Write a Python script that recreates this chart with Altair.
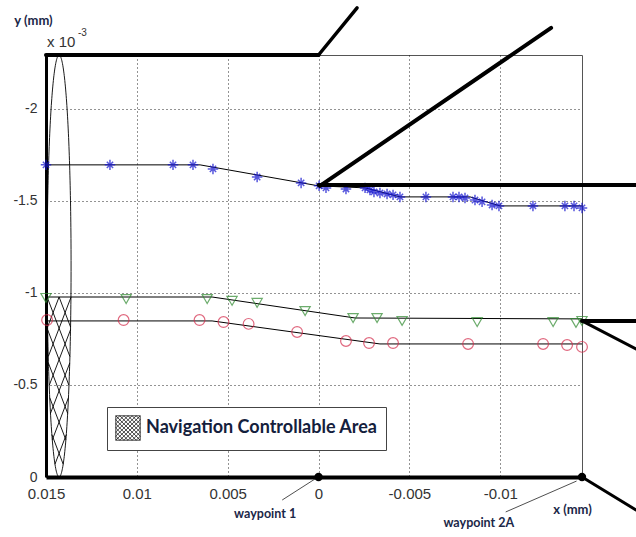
import numpy as np
import pandas as pd
import altair as alt

# ---- trajectory samples: x in mm, y in units of 1e-3 mm ----
star_x = [0.01500, 0.01148, 0.00801, 0.00691, 0.00581, 0.00338, 0.00096, -0.00003,
          -0.00041, -0.00151, -0.00256, -0.00283, -0.00305, -0.00338, -0.00377,
          -0.00410, -0.00448, -0.00591, -0.00740, -0.00773, -0.00806, -0.00861,
          -0.00900, -0.00955, -0.00993, -0.01180, -0.01356, -0.01406, -0.01450]
star_y = [-1.696, -1.696, -1.696, -1.696, -1.674, -1.630, -1.598, -1.582,
          -1.571, -1.565, -1.571, -1.560, -1.549, -1.543, -1.538,
          -1.533, -1.522, -1.522, -1.522, -1.522, -1.516, -1.505,
          -1.495, -1.478, -1.473, -1.473, -1.473, -1.473, -1.462]

tri_x = [0.01500, 0.01059, 0.00613, 0.00476, 0.00338, 0.00074, -0.00190,
         -0.00322, -0.00460, -0.00873, -0.01291, -0.01417, -0.01450]
tri_y = [-0.973, -0.967, -0.967, -0.957, -0.946, -0.902, -0.864,
         -0.864, -0.848, -0.842, -0.842, -0.837, -0.848]

circ_x = [0.01494, 0.01073, 0.00655, 0.00523, 0.00385, 0.00118, -0.00151,
          -0.00278, -0.00410, -0.00823, -0.01236, -0.01368, -0.01450]
circ_y = [-0.853, -0.853, -0.853, -0.842, -0.832, -0.788, -0.739,
          -0.728, -0.728, -0.723, -0.723, -0.717, -0.707]

# ---- reference paths (thin black lines) ----
star_path_x = [0.015, 0.00652, 0.0, -0.00256, -0.00449, -0.00834, -0.00999, -0.0145]
star_path_y = [-1.696, -1.696, -1.582, -1.571, -1.522, -1.522, -1.473, -1.473]
tri_path_x = [0.015, 0.00586, -0.00201, -0.0145]
tri_path_y = [-0.978, -0.978, -0.864, -0.859]
circ_path_x = [0.015, 0.00586, -0.00338, -0.0145]
circ_path_y = [-0.848, -0.848, -0.723, -0.723]

# ---- axes ----
x_domain = [0.015, -0.0145]
y_domain = [0, -2.293]
x_ticks = [0.015, 0.01, 0.005, 0, -0.005, -0.01]
y_ticks = [0, -0.5, -1, -1.5, -2]

# ---- waypoints ----
wp_names = ["waypoint 1", "waypoint 2A"]
wp_x = [0.0, -0.0145]
wp_y = [0.0, 0.0]
wp_label_x = [0.00294, -0.00882]
wp_label_y = [0.201, 0.250]
wp_lead_x0 = [0.00200, -0.01030]
wp_lead_y0 = [0.125, 0.190]
wp_lead_x1 = [0.00012, -0.01420]
wp_lead_y1 = [0.006, 0.022]

# ---- heavy guide strokes (mm, 1e-3 mm) ----
guide_x0 = [0.015, 0.0, -0.00008, 0.0, -0.0145, -0.0145, -0.0145]
guide_y0 = [-2.293, -2.293, -1.582, -1.587, -0.848, -0.848, 0.0]
guide_x1 = [0.0, -0.00212, -0.0128, -0.01747, -0.01747, -0.01747, -0.01747]
guide_y1 = [-2.293, -2.549, -2.440, -1.587, -0.848, -0.696, 0.179]
guide_w = [4, 3.5, 4, 4, 4, 3, 3]

# ---- navigation controllable area (ellipse with cross hatching) ----
ell_cx, ell_a = 0.01428, 0.00066
ell_cy, ell_b = -1.1465, 1.1465
hatch_top = -0.978
hatch_step = 0.17
area_name = "Navigation Controllable Area"

navy = "#1b2748"
label_font = "Lato"
tick_font = "Liberation Sans"

rows = []
t = np.linspace(0, 2 * np.pi, 241)
for i, tt in enumerate(t):
    rows.append(dict(x=ell_cx + ell_a * np.cos(tt), y=ell_cy + ell_b * np.sin(tt),
                     seg="ellipse", ord=i, region=area_name))

slope = hatch_step / ell_a  # rise of one step across half the width
seg_id = 0
for s in (slope, -slope):
    for c in np.arange(hatch_top - hatch_step, hatch_step * 1.01, hatch_step):
        # intersect y = c + s*u with the ellipse, u = x - cx
        A = 1 / ell_a ** 2 + s ** 2 / ell_b ** 2
        B = 2 * s * (c - ell_cy) / ell_b ** 2
        C = (c - ell_cy) ** 2 / ell_b ** 2 - 1
        disc = B * B - 4 * A * C
        if disc <= 0:
            continue
        u1 = (-B - np.sqrt(disc)) / (2 * A)
        u2 = (-B + np.sqrt(disc)) / (2 * A)
        ucut = (hatch_top - c) / s
        if s > 0:
            u1 = max(u1, ucut)
        else:
            u2 = min(u2, ucut)
        if u2 <= u1:
            continue
        for k, u in enumerate((u1, u2)):
            rows.append(dict(x=ell_cx + u, y=c + s * u, seg=f"h{seg_id}", ord=k,
                             region=area_name))
        seg_id += 1
area_df = pd.DataFrame(rows)


def hatch_symbol(n=6):
    parts = ["M-1,-1H1V1H-1Z"]
    for c in np.linspace(-2, 2, 2 * n + 1)[1:-1]:
        a0, a1 = max(-1, -1 - c), min(1, 1 - c)
        parts.append(f"M{a0:.3f},{a0 + c:.3f}L{a1:.3f},{a1 + c:.3f}")
        b0, b1 = max(-1, c - 1), min(1, c + 1)
        parts.append(f"M{b0:.3f},{c - b0:.3f}L{b1:.3f},{c - b1:.3f}")
    return "".join(parts)


star_shape = "M0,-1V1M-1,0H1M-0.6,-0.6L0.6,0.6M-0.6,0.6L0.6,-0.6"

xscale = alt.Scale(domain=x_domain, nice=False, zero=False)
yscale = alt.Scale(domain=y_domain, nice=False, zero=False)
xaxis = alt.Axis(values=x_ticks, labelExpr="toString(datum.value)", grid=True,
                 ticks=False, title="x (mm)", titleX=526, titleY=26,
                 titleAlign="center", titleBaseline="top", titleFont=label_font,
                 titleFontWeight="bold", titleFontSize=13, titleColor=navy,
                 labelFont=tick_font, labelFontSize=15, labelColor="#333",
                 labelPadding=9, domainColor="black", domainWidth=4,
                 labelFlush=False)
yaxis = alt.Axis(values=y_ticks, labelExpr="toString(datum.value)", grid=True,
                 ticks=False, title="y (mm)", titleAngle=0, titleX=-13, titleY=-35,
                 titleAlign="center", titleBaseline="middle", titleFont=label_font,
                 titleFontWeight="bold", titleFontSize=13, titleColor=navy,
                 labelFont=tick_font, labelFontSize=14, labelColor="#333",
                 labelPadding=9, domainColor="black", domainWidth=3)


def X(field):
    return alt.X(field, type="quantitative", scale=xscale, axis=xaxis)


def Y(field):
    return alt.Y(field, type="quantitative", scale=yscale, axis=yaxis)


def path_df(xs, ys):
    return pd.DataFrame({"x": xs, "y": ys, "i": range(len(xs))})


paths = []
for xs, ys in ((star_path_x, star_path_y), (tri_path_x, tri_path_y),
               (circ_path_x, circ_path_y)):
    paths.append(alt.Chart(path_df(xs, ys)).mark_line(color="black", strokeWidth=1)
                 .encode(x=X("x"), y=Y("y"), order="i:Q"))

stars = alt.Chart(path_df(star_x, star_y)).mark_point(
    shape=star_shape, filled=False, color="#1212d0", size=110, strokeWidth=1.5
).encode(x=X("x"), y=Y("y"))
tris = alt.Chart(path_df(tri_x, tri_y)).mark_point(
    shape="triangle-down", filled=False, color="#2f8a2f", size=105, strokeWidth=1.2
).encode(x=X("x"), y=Y("y"))
circs = alt.Chart(path_df(circ_x, circ_y)).mark_point(
    shape="circle", filled=False, color="#d42a4a", size=115, strokeWidth=1.2
).encode(x=X("x"), y=Y("y"))

area = alt.Chart(area_df).mark_line(strokeWidth=0.9, clip=False).encode(
    x=X("x"), y=Y("y"), detail="seg:N", order="ord:Q",
    stroke=alt.Stroke("region:N", scale=alt.Scale(range=["black"]),
                      legend=alt.Legend(orient="none", legendX=61, legendY=352,
                                        title=None, padding=8, strokeColor="#444",
                                        fillColor="white", symbolType=hatch_symbol(),
                                        symbolSize=600, symbolStrokeWidth=0.7,
                                        symbolFillColor="white",
                                        labelFont=label_font, labelFontSize=18,
                                        labelFontWeight="bold", labelColor="#14203c",
                                        labelOffset=5, labelLimit=400)),
)

guides_df = pd.DataFrame({"x0": guide_x0, "y0": guide_y0, "x1": guide_x1,
                          "y1": guide_y1, "w": guide_w})
guides = alt.Chart(guides_df).mark_rule(color="black", clip=False,
                                        strokeCap="round").encode(
    x=X("x0"), y=Y("y0"), x2="x1", y2="y1",
    strokeWidth=alt.StrokeWidth("w:Q", scale=None, legend=None),
)

wp_df = pd.DataFrame({"name": wp_names, "x": wp_x, "y": wp_y,
                      "lx": wp_label_x, "ly": wp_label_y,
                      "ax": wp_lead_x0, "ay": wp_lead_y0,
                      "bx": wp_lead_x1, "by": wp_lead_y1})
wp_base = alt.Chart(wp_df)
wp_leads = wp_base.mark_rule(color="#222", strokeWidth=0.8, clip=False).encode(
    x=X("ax"), y=Y("ay"), x2="bx", y2="by")
wp_dots = wp_base.mark_circle(color="black", size=70, opacity=1, clip=False).encode(
    x=X("x"), y=Y("y"))
wp_text = wp_base.mark_text(font=label_font, fontWeight="bold", fontSize=12.5,
                            color=navy, clip=False).encode(
    x=X("lx"), y=Y("ly"), text="name:N")

exp_df = pd.DataFrame({"base": ["x 10"], "exp": ["-3"]})
exp_base = alt.Chart(exp_df).mark_text(font=tick_font, fontSize=15, color="#333",
                                       align="left", baseline="alphabetic").encode(
    x=alt.value(1), y=alt.value(-8), text="base:N")
exp_sup = alt.Chart(exp_df).mark_text(font=tick_font, fontSize=10, color="#333",
                                      align="left", baseline="alphabetic").encode(
    x=alt.value(32), y=alt.value(-19), text="exp:N")

chart = alt.layer(
    area, *paths, tris, circs, stars, guides, wp_leads, wp_dots, wp_text,
    exp_base, exp_sup
).properties(
    width=536, height=422,
    padding={"left": 46, "top": 55, "right": 54, "bottom": 60},
    autosize=alt.AutoSizeParams(type="none"),
    background="white",
).configure_view(
    stroke="#555", strokeWidth=1
).configure_axis(
    gridColor="#111", gridDash=[1, 3], gridOpacity=0.9, gridWidth=1
)

chart.save("out.html", embed_options={"renderer": "svg", "actions": False})
